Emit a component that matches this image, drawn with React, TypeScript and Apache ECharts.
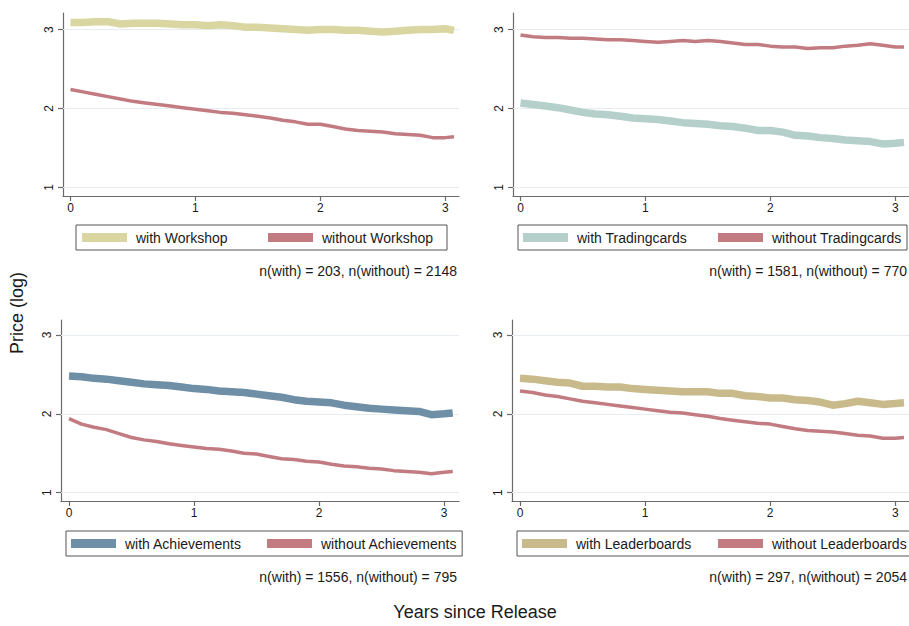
import React, { useEffect, useRef } from "react";
import * as echarts from "echarts";

// ---- data ----
const years = [0, 0.1, 0.2, 0.3, 0.4, 0.5, 0.6, 0.7, 0.8, 0.9, 1.0, 1.1, 1.2, 1.3, 1.4, 1.5, 1.6, 1.7, 1.8, 1.9, 2.0, 2.1, 2.2, 2.3, 2.4, 2.5, 2.6, 2.7, 2.8, 2.9, 3.0, 3.07];

const withWorkshop = [3.09, 3.09, 3.1, 3.1, 3.07, 3.08, 3.08, 3.08, 3.07, 3.06, 3.06, 3.05, 3.06, 3.05, 3.03, 3.03, 3.02, 3.01, 3.0, 2.99, 3.0, 3.0, 2.99, 2.99, 2.98, 2.97, 2.98, 2.99, 3.0, 3.0, 3.01, 2.99];
const withoutWorkshop = [2.24, 2.21, 2.18, 2.15, 2.12, 2.09, 2.07, 2.05, 2.03, 2.01, 1.99, 1.97, 1.95, 1.94, 1.92, 1.9, 1.88, 1.85, 1.83, 1.8, 1.8, 1.77, 1.74, 1.72, 1.71, 1.7, 1.68, 1.67, 1.66, 1.63, 1.63, 1.64];

const withTradingcards = [2.07, 2.05, 2.03, 2.01, 1.98, 1.95, 1.93, 1.92, 1.9, 1.88, 1.87, 1.86, 1.84, 1.82, 1.81, 1.8, 1.78, 1.77, 1.75, 1.72, 1.72, 1.7, 1.66, 1.65, 1.63, 1.62, 1.6, 1.59, 1.58, 1.55, 1.56, 1.57];
const withoutTradingcards = [2.93, 2.91, 2.9, 2.9, 2.89, 2.89, 2.88, 2.87, 2.87, 2.86, 2.85, 2.84, 2.85, 2.86, 2.85, 2.86, 2.85, 2.83, 2.81, 2.81, 2.79, 2.78, 2.78, 2.76, 2.77, 2.77, 2.79, 2.8, 2.82, 2.8, 2.78, 2.78];

const withAchievements = [2.48, 2.47, 2.45, 2.44, 2.42, 2.4, 2.38, 2.37, 2.36, 2.34, 2.32, 2.31, 2.29, 2.28, 2.27, 2.25, 2.23, 2.21, 2.18, 2.16, 2.15, 2.14, 2.11, 2.09, 2.07, 2.06, 2.05, 2.04, 2.03, 1.99, 2.0, 2.01];
const withoutAchievements = [1.94, 1.87, 1.83, 1.8, 1.75, 1.7, 1.67, 1.65, 1.62, 1.6, 1.58, 1.56, 1.55, 1.53, 1.5, 1.49, 1.46, 1.43, 1.42, 1.4, 1.39, 1.36, 1.34, 1.33, 1.31, 1.3, 1.28, 1.27, 1.26, 1.24, 1.26, 1.27];

const withLeaderboards = [2.45, 2.44, 2.42, 2.4, 2.39, 2.35, 2.35, 2.34, 2.34, 2.32, 2.31, 2.3, 2.29, 2.28, 2.28, 2.28, 2.26, 2.26, 2.23, 2.22, 2.2, 2.2, 2.18, 2.17, 2.15, 2.11, 2.13, 2.16, 2.14, 2.12, 2.13, 2.14];
const withoutLeaderboards = [2.29, 2.27, 2.24, 2.22, 2.19, 2.16, 2.14, 2.12, 2.1, 2.08, 2.06, 2.04, 2.02, 2.01, 1.99, 1.97, 1.94, 1.92, 1.9, 1.88, 1.87, 1.84, 1.81, 1.79, 1.78, 1.77, 1.75, 1.73, 1.72, 1.69, 1.69, 1.7];

const features = ["Workshop", "Tradingcards", "Achievements", "Leaderboards"];
const nWith = [203, 1581, 1556, 297];
const nWithout = [2148, 770, 795, 2054];
const xTicks = [0, 1, 2, 3];
const yTicks = [1, 2, 3];

const withSeries = [withWorkshop, withTradingcards, withAchievements, withLeaderboards];
const withoutSeries = [withoutWorkshop, withoutTradingcards, withoutAchievements, withoutLeaderboards];

// ---- styles / layout ----
const withColors = ["#d9d6a2", "#b5d0ca", "#6f8fa6", "#c9ba8c"];
const withoutColor = "#c27b80";
const FONT = "Liberation Sans, Arial, Helvetica, sans-serif";
const TEXT = "#1a1a1a";
const AXIS = "#6a6a6a";

const grids = [
  { left: 63, top: 13, width: 396, height: 183, xMin: -0.06, xMax: 3.11, yMin: 0.89, yMax: 3.21 },
  { left: 513, top: 13, width: 396, height: 183, xMin: -0.06, xMax: 3.11, yMin: 0.89, yMax: 3.21 },
  { left: 61, top: 320, width: 398, height: 181, xMin: -0.064, xMax: 3.12, yMin: 0.895, yMax: 3.19 },
  { left: 512, top: 320, width: 397, height: 181, xMin: -0.064, xMax: 3.11, yMin: 0.895, yMax: 3.19 },
];

const legends = [
  { left: 76, top: 225, padL: 6, padR: 6, w1: 132, w2: 119 },
  { left: 518, top: 225, padL: 5, padR: 5, w1: 141, w2: 130 },
  { left: 66, top: 531, padL: 5, padR: 5, w1: 142, w2: 130 },
  { left: 517, top: 531, padL: 5, padR: 5, w1: 142, w2: 130 },
];

const notes = [
  { x: 457, y: 271 },
  { x: 907, y: 271 },
  { x: 457, y: 577 },
  { x: 907, y: 577 },
];

export default function App() {
  const ref = useRef<HTMLDivElement>(null);

  useEffect(() => {
    if (!ref.current) return;
    const chart = echarts.init(ref.current, undefined, { renderer: "svg" });

    const series: any[] = [];
    features.forEach((f, i) => {
      series.push({
        name: "with " + f,
        type: "line",
        xAxisIndex: i,
        yAxisIndex: i,
        data: years.map((x, k) => [x, withSeries[i][k]]),
        showSymbol: false,
        symbol: "none",
        color: withColors[i],
        lineStyle: { color: withColors[i], width: 7.5 },
        itemStyle: { color: withColors[i] },
        z: 2,
        silent: true,
        markLine: {
          silent: true,
          symbol: "none",
          z: 1,
          label: { show: false },
          lineStyle: { color: "#e6ecef", width: 1, type: "solid" },
          emphasis: { disabled: true },
          data: yTicks.map((v) => ({ yAxis: v })),
        },
      });
      series.push({
        name: "without " + f,
        type: "line",
        xAxisIndex: i,
        yAxisIndex: i,
        data: years.map((x, k) => [x, withoutSeries[i][k]]),
        showSymbol: false,
        symbol: "none",
        color: withoutColor,
        lineStyle: { color: withoutColor, width: 3.5 },
        itemStyle: { color: withoutColor },
        z: 3,
        silent: true,
      });
    });

    const option: any = {
      animation: false,
      backgroundColor: "#ffffff",
      textStyle: { fontFamily: FONT },
      grid: grids.map((g) => ({
        left: g.left,
        top: g.top,
        width: g.width,
        height: g.height,
        containLabel: false,
        outerBoundsMode: "none",
      })),
      xAxis: grids.map((g, i) => ({
        type: "value",
        gridIndex: i,
        min: g.xMin,
        max: g.xMax,
        axisLine: { show: true, onZero: false, lineStyle: { color: AXIS, width: 1.2 } },
        axisTick: { show: true, length: 5, customValues: xTicks, lineStyle: { color: AXIS, width: 1.2 } },
        axisLabel: {
          show: true,
          customValues: xTicks,
          margin: 6,
          color: TEXT,
          fontSize: 12,
          fontFamily: FONT,
          showMinLabel: true,
          showMaxLabel: true,
        },
        splitLine: { show: false },
      })),
      yAxis: grids.map((g, i) => ({
        type: "value",
        gridIndex: i,
        min: g.yMin,
        max: g.yMax,
        axisLine: { show: true, onZero: false, lineStyle: { color: AXIS, width: 1.2 } },
        axisTick: { show: true, length: 5, customValues: yTicks, lineStyle: { color: AXIS, width: 1.2 } },
        axisLabel: {
          show: true,
          customValues: yTicks,
          rotate: 90,
          margin: 8,
          color: TEXT,
          fontSize: 12,
          fontFamily: FONT,
        },
        splitLine: { show: false },
      })),
      legend: legends.map((L, i) => ({
        left: L.left,
        top: L.top,
        width: 440,
        orient: "horizontal",
        padding: [5, L.padR, 5, L.padL],
        itemGap: 0,
        itemWidth: 45,
        itemHeight: 9,
        icon: "rect",
        selectedMode: false,
        borderColor: "#555555",
        borderWidth: 1,
        backgroundColor: "#ffffff",
        itemStyle: { borderWidth: 0 },
        textStyle: {
          color: TEXT,
          fontSize: 14,
          fontFamily: FONT,
          lineHeight: 15,
          padding: [0, 0, 0, 4],
        },
        data: [
          { name: "with " + features[i], icon: "rect", itemStyle: { color: withColors[i], borderWidth: 0 }, textStyle: { width: L.w1 } },
          { name: "without " + features[i], icon: "rect", itemStyle: { color: withoutColor, borderWidth: 0 }, textStyle: { width: L.w2 } },
        ],
      })),
      graphic: [
        ...notes.map((n, i) => ({
          type: "text",
          x: n.x,
          y: n.y,
          silent: true,
          style: {
            text: `n(with) = ${nWith[i]}, n(without) = ${nWithout[i]}`,
            fill: TEXT,
            font: `14px ${FONT}`,
            textAlign: "right",
            textVerticalAlign: "middle",
          },
        })),
        {
          type: "text",
          x: 17,
          y: 313,
          rotation: Math.PI / 2,
          silent: true,
          style: {
            text: "Price (log)",
            fill: TEXT,
            font: `18px ${FONT}`,
            textAlign: "center",
            textVerticalAlign: "middle",
          },
        },
        {
          type: "text",
          x: 475,
          y: 612,
          silent: true,
          style: {
            text: "Years since Release",
            fill: TEXT,
            font: `18px ${FONT}`,
            textAlign: "center",
            textVerticalAlign: "middle",
          },
        },
      ],
      series,
    };

    chart.setOption(option);
    return () => chart.dispose();
  }, []);

  return (
    <div
      ref={ref}
      style={{ position: "fixed", left: 0, top: 0, width: 909, height: 626, background: "#fff" }}
    />
  );
}
